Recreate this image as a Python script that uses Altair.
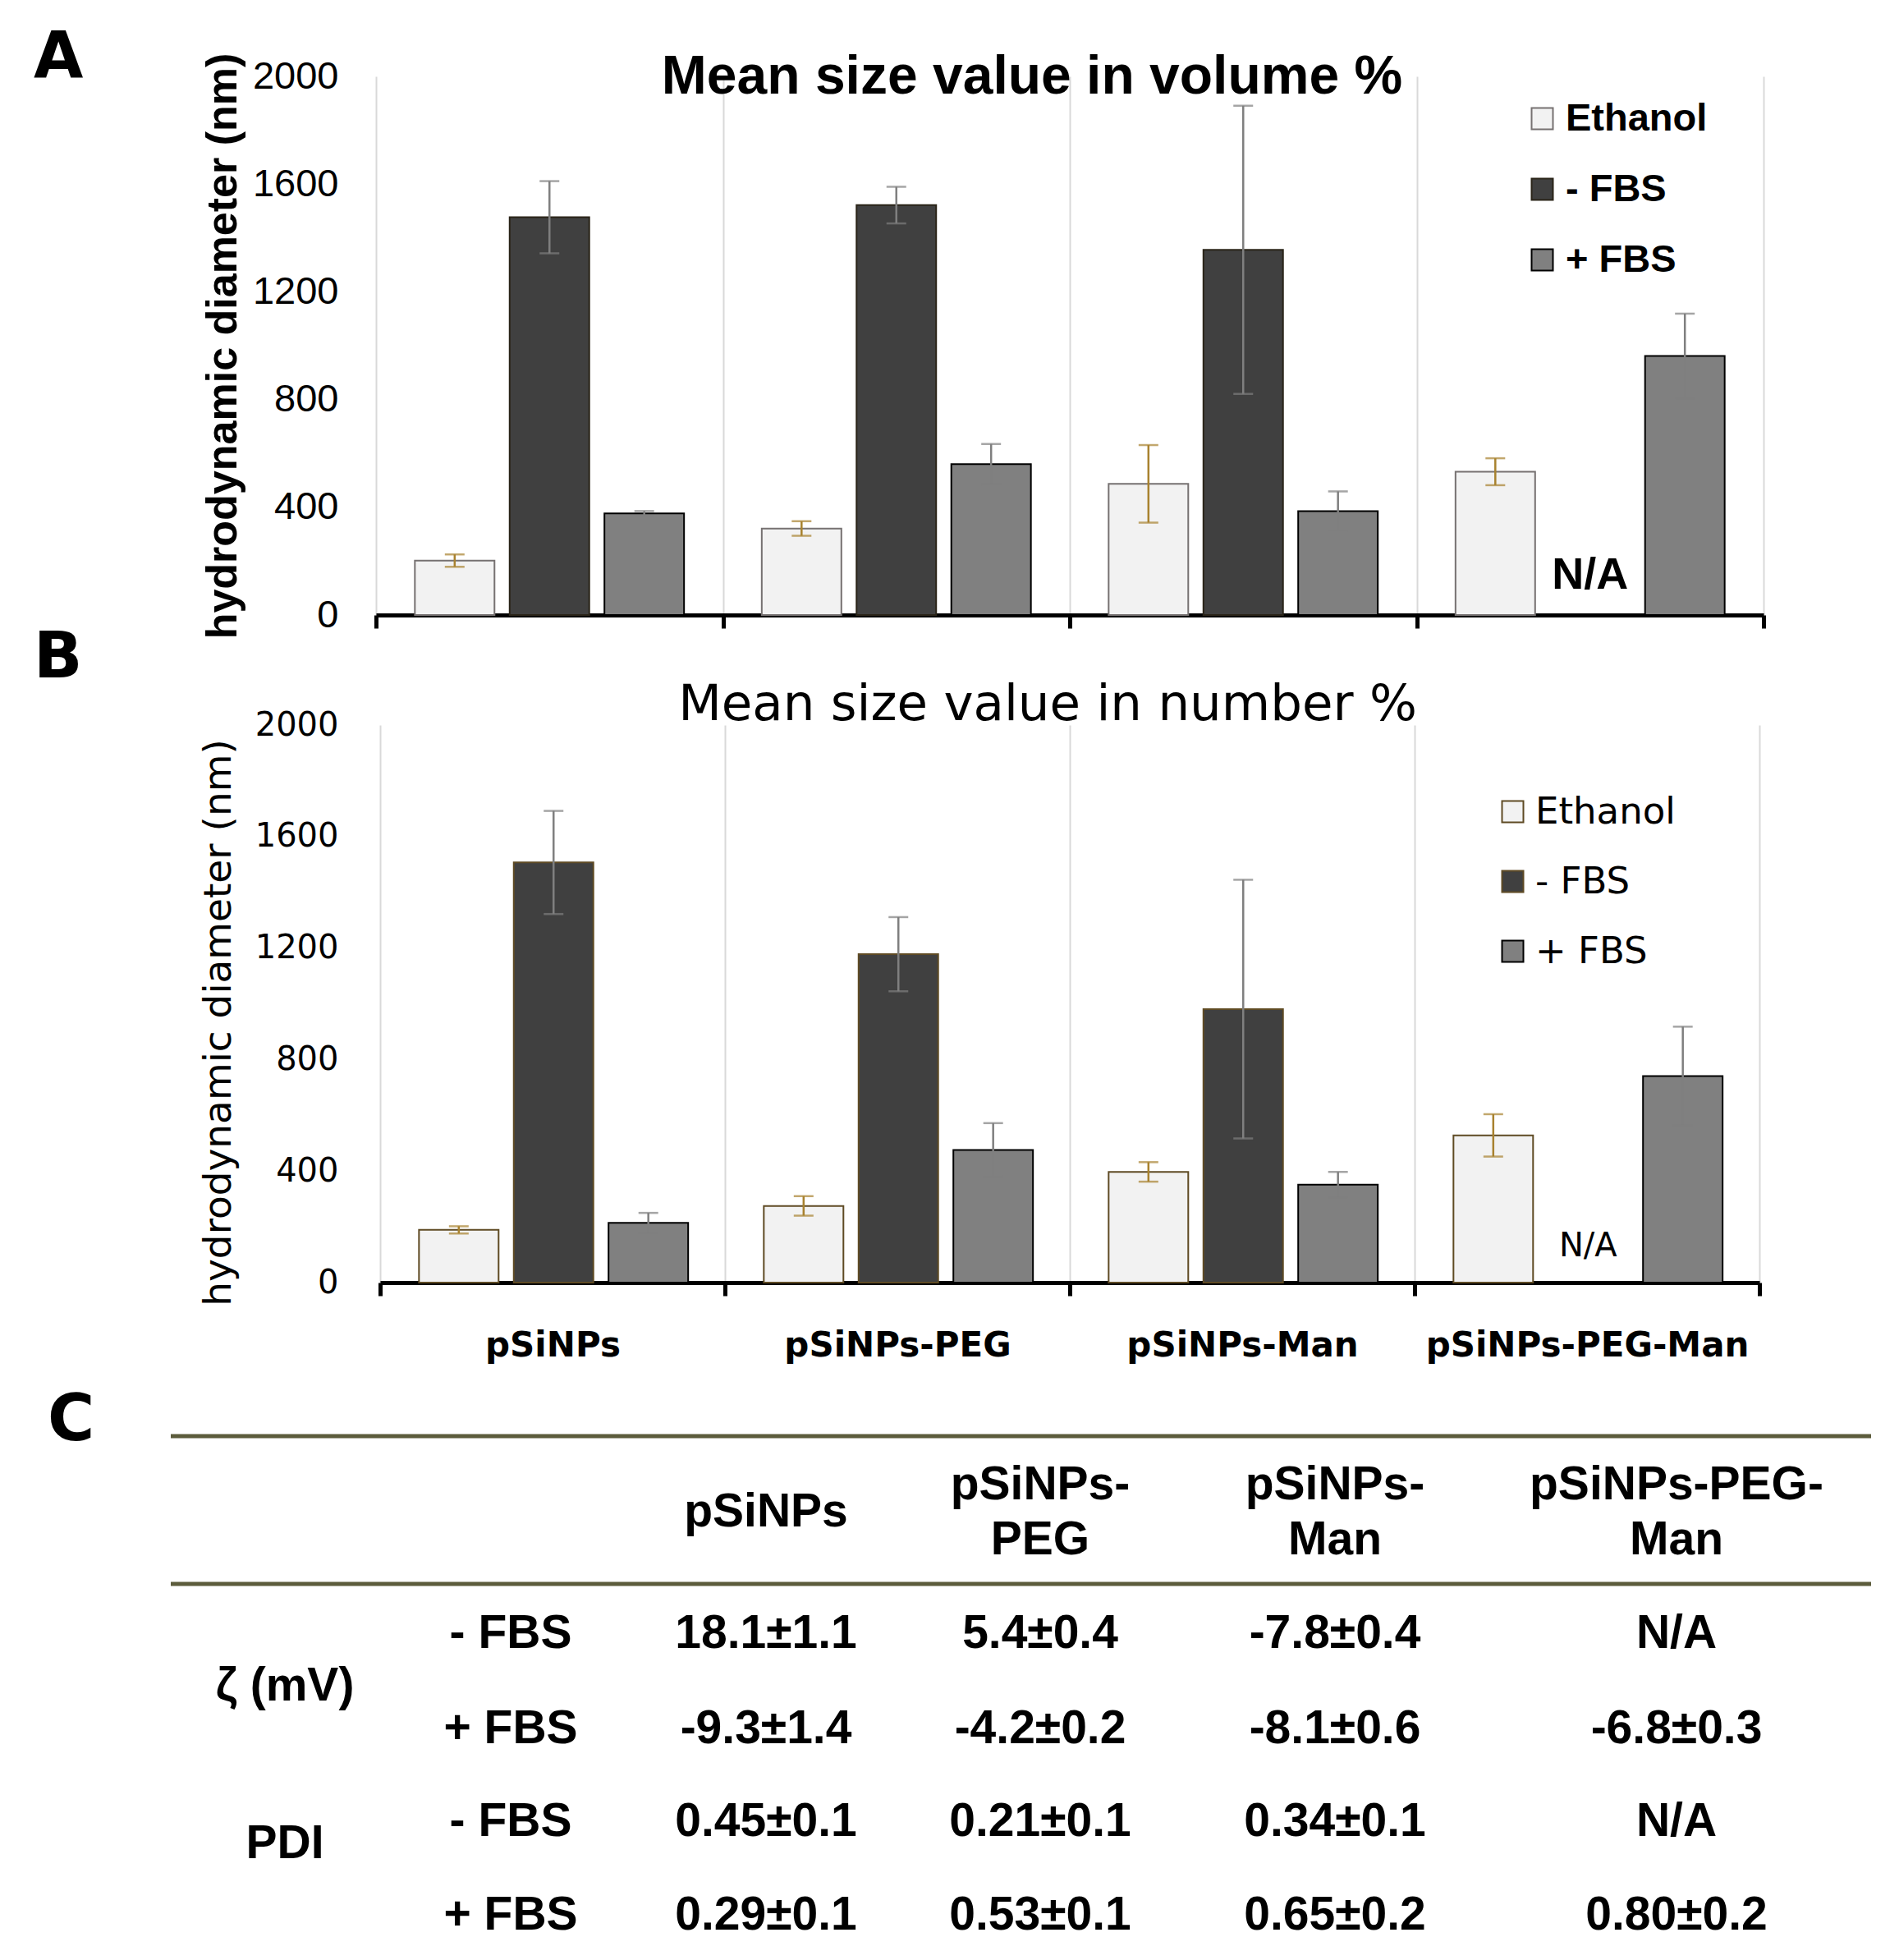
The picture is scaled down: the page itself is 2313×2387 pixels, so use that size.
import altair as alt
import pandas as pd

# ---------------- data ----------------
groups = ["pSiNPs", "pSiNPs-PEG", "pSiNPs-Man", "pSiNPs-PEG-Man"]
conds = ["Ethanol", "- FBS", "+ FBS"]

# Panel A: mean size value in volume %
vol_ethanol = [202, 321, 487, 532]
vol_ethanol_err = [23, 27, 144, 50]
vol_minus = [1477, 1522, 1356, None]
vol_minus_err = [134, 68, 535, None]
vol_plus = [377, 560, 386, 962]
vol_plus_err = [9, 75, 73, 157]

# Panel B: mean size value in number %
num_ethanol = [189, 275, 397, 528]
num_ethanol_err = [13, 35, 35, 76]
num_minus = [1507, 1178, 981, None]
num_minus_err = [185, 133, 464, None]
num_plus = [214, 476, 351, 741]
num_plus_err = [36, 96, 46, 177]

y_ticks = [0, 400, 800, 1200, 1600, 2000]

# Panel C: table
table_headers = ["pSiNPs", "pSiNPs-\nPEG", "pSiNPs-\nMan", "pSiNPs-PEG-\nMan"]
table_groups = ["ζ (mV)", "PDI"]
table_conds = ["- FBS", "+ FBS"]
zeta_minus = ["18.1±1.1", "5.4±0.4", "-7.8±0.4", "N/A"]
zeta_plus = ["-9.3±1.4", "-4.2±0.2", "-8.1±0.6", "-6.8±0.3"]
pdi_minus = ["0.45±0.1", "0.21±0.1", "0.34±0.1", "N/A"]
pdi_plus = ["0.29±0.1", "0.53±0.1", "0.65±0.2", "0.80±0.2"]

FILLS = ["#f2f2f2", "#404040", "#808080"]
ERR_COLORS = ["#a8822f", "#7f7f7f", "#7f7f7f"]
YTITLE = "hydrodynamic diameter (nm)"


def make_df(eth, eth_e, mi, mi_e, pl, pl_e):
    recs = []
    for i, g in enumerate(groups):
        for c, vals, errs in ((conds[0], eth, eth_e), (conds[1], mi, mi_e), (conds[2], pl, pl_e)):
            if vals[i] is None:
                continue
            recs.append({"group": g, "cond": c, "value": vals[i],
                         "lo": vals[i] - errs[i], "hi": vals[i] + errs[i]})
    return pd.DataFrame(recs)


def panel(df, missing, s):
    xs = alt.Scale(domain=groups, paddingInner=0, paddingOuter=0, range=s["xrange"])
    xo = alt.Scale(domain=conds, paddingInner=0.16, paddingOuter=0.41)
    ys = alt.Scale(domain=[0, 2000], nice=False, zero=True)
    XO = alt.XOffset("cond:N", sort=conds, scale=xo)

    x_axis = alt.Axis(
        labels=s["show_labels"], tickBand="extent", grid=True, gridColor="#d9d9d9",
        gridWidth=2, domainColor="black", domainWidth=5, tickColor="black",
        tickWidth=5, tickSize=16, labelFont=s["xlab_font"], labelFontSize=s["xlab_size"],
        labelFontWeight="bold", labelColor="black", labelPadding=40, labelAngle=0,
        labelLimit=600,
    )
    y_axis = alt.Axis(
        values=y_ticks, format="d", grid=False, domain=False, ticks=False,
        labelFont=s["tick_font"], labelFontSize=s["tick_size"], labelColor="black",
        labelPadding=46, titleFont=s["yt_font"], titleFontSize=s["yt_size"],
        titleFontWeight=s["yt_weight"], titleColor="black", titlePadding=s["yt_pad"],
        **({"titleY": s["yt_y"]} if s.get("yt_y") is not None else {}),
    )
    leg = alt.Legend(
        title=None, orient="none", legendX=s["leg_x"], legendY=s["leg_y"],
        symbolType="square", symbolSize=676, symbolStrokeWidth=2,
        labelFont=s["leg_font"], labelFontSize=s["leg_size"], labelFontWeight=s["leg_weight"],
        labelColor="black", labelOffset=s["leg_off"], rowPadding=s["leg_pad"],
        padding=0, labelLimit=500,
    )

    base = alt.Chart(df)
    bars = base.mark_bar(strokeWidth=2).encode(
        x=alt.X("group:N", sort=groups, scale=xs, title=None, axis=x_axis),
        xOffset=XO,
        y=alt.Y("value:Q", scale=ys, title=YTITLE, axis=y_axis),
        fill=alt.Fill("cond:N", sort=conds, scale=alt.Scale(domain=conds, range=FILLS), legend=leg),
        stroke=alt.Stroke("cond:N", sort=conds, scale=alt.Scale(domain=conds, range=s["strokes"]), legend=leg),
    )
    ecol = alt.Color("cond:N", scale=alt.Scale(domain=conds, range=ERR_COLORS), legend=None)
    Xn = alt.X("group:N", sort=groups, scale=xs, title=None)
    err = base.mark_rule(strokeWidth=2.5).encode(
        x=Xn, xOffset=XO, y=alt.Y("lo:Q", scale=ys, title=YTITLE), y2="hi:Q", color=ecol)
    cap_lo = base.mark_tick(size=24, thickness=2.5).encode(
        x=Xn, xOffset=XO, y=alt.Y("lo:Q", scale=ys, title=YTITLE), color=ecol)
    cap_hi = base.mark_tick(size=24, thickness=2.5).encode(
        x=Xn, xOffset=XO, y=alt.Y("hi:Q", scale=ys, title=YTITLE), color=ecol)

    na_df = pd.DataFrame({"group": missing, "cond": [conds[1]] * len(missing),
                          "value": [0] * len(missing), "label": ["N/A"] * len(missing)})
    na = alt.Chart(na_df).mark_text(
        dy=-32, align="center", baseline="alphabetic", font=s["na_font"],
        fontSize=s["na_size"], fontWeight=s["na_weight"], color="black",
    ).encode(x=Xn, xOffset=XO, y=alt.Y("value:Q", scale=ys, title=YTITLE), text="label:N")

    ttl = alt.Chart(pd.DataFrame({"t": [s["title"]]})).mark_text(
        align="center", baseline="alphabetic", font=s["title_font"], fontSize=s["title_size"],
        fontWeight=s["title_weight"], color="black",
    ).encode(text="t:N", x=alt.value(s["title_x"]), y=alt.value(s["title_y"]))

    letter = alt.Chart(pd.DataFrame({"t": [s["letter"]]})).mark_text(
        align="left", baseline="alphabetic", font="DejaVu Sans", fontSize=78,
        fontWeight="bold", color="black",
    ).encode(text="t:N", x=alt.value(-417), y=alt.value(s["letter_y"]))

    spacer = alt.Chart(pd.DataFrame({"s": [0]})).mark_rule(opacity=0).encode(
        x=alt.value(-420), y=alt.value(s["sp_top"]), y2=alt.value(s["sp_bot"]))

    return alt.layer(bars, err, cap_lo, cap_hi, na, ttl, letter, spacer).properties(
        width=s["width"], height=s["height"])


dfA = make_df(vol_ethanol, vol_ethanol_err, vol_minus, vol_minus_err, vol_plus, vol_plus_err)
dfB = make_df(num_ethanol, num_ethanol_err, num_minus, num_minus_err, num_plus, num_plus_err)
missA = [g for g, v in zip(groups, vol_minus) if v is None]
missB = [g for g, v in zip(groups, num_minus) if v is None]

styleA = dict(
    xrange=[0, 1690], width=1690, height=656, show_labels=False,
    xlab_font="DejaVu Sans", xlab_size=42,
    tick_font="Liberation Sans", tick_size=47,
    yt_font="Liberation Sans", yt_size=52, yt_weight="bold", yt_pad=9, yt_y=None,
    leg_x=1397, leg_y=28, leg_font="Liberation Sans", leg_size=47, leg_weight="bold",
    leg_off=5, leg_pad=38,
    strokes=["#767171", "#2a2418", "#000000"],
    na_font="Liberation Sans", na_size=54, na_weight="bold",
    title="Mean size value in volume %", title_font="Liberation Sans", title_size=66,
    title_weight="bold", title_x=799, title_y=21,
    letter="A", letter_y=1, sp_top=-75, sp_bot=690,
)
styleB = dict(
    xrange=[5, 1685], width=1685, height=679, show_labels=True,
    xlab_font="DejaVu Sans", xlab_size=42,
    tick_font="DejaVu Sans", tick_size=40,
    yt_font="DejaVu Sans", yt_size=47, yt_weight="normal", yt_pad=20, yt_y=362,
    leg_x=1362, leg_y=83, leg_font="DejaVu Sans", leg_size=45, leg_weight="normal",
    leg_off=5, leg_pad=39,
    strokes=["#5f4b24", "#5f4b24", "#000000"],
    na_font="DejaVu Sans", na_size=40, na_weight="normal",
    title="Mean size value in number %", title_font="DejaVu Sans", title_size=61,
    title_weight="normal", title_x=818, title_y=-6,
    letter="B", letter_y=-58, sp_top=-130, sp_bot=800,
)

chartA = panel(dfA, missA, styleA)
chartB = panel(dfB, missB, styleB)

# ---------------- table C ----------------
cell_recs = []
for j, h in enumerate(table_headers):
    cell_recs.append({"col": 2 + j, "slot": 1, "text": h, "nlines": h.count("\n") + 1})
blocks = [[zeta_minus, zeta_plus], [pdi_minus, pdi_plus]]
label_recs = []
for gi, (gname, rows) in enumerate(zip(table_groups, blocks)):
    slots = []
    for ci, (cname, vals) in enumerate(zip(table_conds, rows)):
        slot = 3 + gi * len(table_conds) + ci
        slots.append(slot)
        cell_recs.append({"col": 1, "slot": slot, "text": cname, "nlines": 1})
        for j, v in enumerate(vals):
            cell_recs.append({"col": 2 + j, "slot": slot, "text": v, "nlines": 1})
    label_recs.append({"col": 0, "slot": sum(slots) / len(slots), "text": gname})
cells = pd.DataFrame(cell_recs)
glabels = pd.DataFrame(label_recs)
lines = pd.DataFrame({"slot": [0, 2]})

tx = alt.Scale(domain=[0, 1, 2, 3, 4, 5], range=[-111, 164, 475, 809, 1168, 1584], nice=False, zero=False)
ty = alt.Scale(domain=[0, 1, 2, 3, 4, 5, 6], range=[43, 136, 223, 284, 400, 513, 627], nice=False, zero=False)
TXT = dict(font="Liberation Sans", fontSize=57, fontWeight="bold", color="black",
           align="center", baseline="middle")
TX = alt.X("col:Q", scale=tx, axis=None)
TY = alt.Y("slot:Q", scale=ty, axis=None)

t_lines = alt.Chart(lines).mark_rule(color="#5c5c3c", strokeWidth=5).encode(
    y=TY, x=alt.value(-250), x2=alt.value(1821))
t_head1 = alt.Chart(cells[(cells.slot == 1) & (cells.nlines == 1)]).mark_text(**TXT).encode(
    x=TX, y=TY, text="text:N")
t_head2 = alt.Chart(cells[(cells.slot == 1) & (cells.nlines == 2)]).mark_text(
    lineBreak="\n", lineHeight=67, dy=-33, **TXT).encode(x=TX, y=TY, text="text:N")
t_cells = alt.Chart(cells[cells.slot > 2]).mark_text(**TXT).encode(x=TX, y=TY, text="text:N")
t_g1 = alt.Chart(glabels.iloc[[0]]).mark_text(dy=6, **TXT).encode(x=TX, y=TY, text="text:N")
t_g2 = alt.Chart(glabels.iloc[[1]]).mark_text(dy=-30, **TXT).encode(x=TX, y=TY, text="text:N")
t_letter = alt.Chart(pd.DataFrame({"t": ["C"]})).mark_text(
    align="left", baseline="alphabetic", font="DejaVu Sans", fontSize=78, fontWeight="bold",
    color="black").encode(text="t:N", x=alt.value(-400), y=alt.value(48))
t_spacer = alt.Chart(pd.DataFrame({"s": [0]})).mark_rule(opacity=0).encode(
    x=alt.value(-420), y=alt.value(-53), y2=alt.value(655))

chartC = alt.layer(t_lines, t_head1, t_head2, t_cells, t_g1, t_g2, t_letter, t_spacer).properties(
    width=1690, height=640)

chart = alt.vconcat(chartA, chartB, chartC, spacing=-30).resolve_scale(
    fill="independent", stroke="independent", color="independent"
).properties(
    padding={"left": 30, "top": 10, "right": 10, "bottom": 10}
).configure_view(stroke=None)

chart.save("out.html", embed_options={"renderer": "svg", "actions": False})
